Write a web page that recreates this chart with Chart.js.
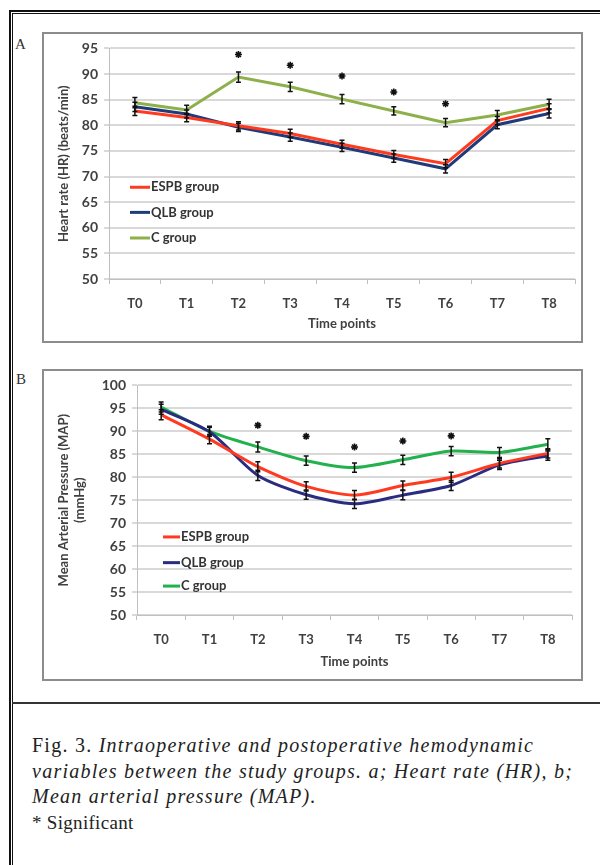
<!DOCTYPE html>
<html>
<head>
<meta charset="utf-8">
<script src="https://cdn.jsdelivr.net/npm/chart.js@4.4.1/dist/chart.umd.min.js"></script>
<style>
  body { margin: 0; background: #fff; }
  #page { position: relative; width: 600px; height: 865px; overflow: hidden; background: #fff; }
  .ln { position: absolute; background: #111; }
  .box { position: absolute; box-sizing: border-box; border: 2px solid #8c8c8c; background: #fff; }
  .box canvas { position: absolute; left: 0; top: 0; }
  .tag { position: absolute; font-family: "Liberation Serif", serif; font-size: 15px; color: #333; }
  #caption { position: absolute; left: 32px; top: 733px; width: 568px; white-space: nowrap;
             font-family: "Liberation Serif", serif; font-size: 20px; line-height: 25.5px; color: #222; letter-spacing: 1.25px; }
  #caption i { font-style: italic; }
  #caption .sig { font-size: 19px; letter-spacing: 0.3px; }
</style>
</head>
<body>
<div id="page">
  <div class="ln" style="left:9px;top:10px;width:591px;height:2px"></div>
  <div class="ln" style="left:12px;top:13px;width:588px;height:1px"></div>
  <div class="ln" style="left:9px;top:10px;width:2px;height:855px"></div>
  <div class="ln" style="left:12px;top:13px;width:1px;height:852px"></div>
  <div class="ln" style="left:12px;top:702px;width:588px;height:2px;background:#333"></div>

  <div class="tag" style="left:15px;top:36px">A</div>
  <div class="box" style="left:42px;top:32px;width:541px;height:311px">
    <canvas id="chartHR" width="537" height="307"></canvas>
  </div>

  <div class="tag" style="left:16px;top:371px">B</div>
  <div class="box" style="left:42px;top:369px;width:541px;height:312px">
    <canvas id="chartMAP" width="537" height="308"></canvas>
  </div>

  <div id="caption">Fig. 3. <i>Intraoperative and postoperative hemodynamic</i><br><i>variables between the study groups. a; Heart rate (HR), b;</i><br><i>Mean arterial pressure (MAP).</i><br><span class="sig">* Significant</span></div>
</div>

<script>
// time points
const timePoints = ['T0', 'T1', 'T2', 'T3', 'T4', 'T5', 'T6', 'T7', 'T8'];
const groupNames = ['ESPB group', 'QLB group', 'C group'];

// A: heart rate (beats/min)
const hrESPB = [82.8, 81.5, 79.9, 78.4, 76.3, 74.3, 72.5, 80.9, 83.3];
const hrQLB  = [83.6, 82.2, 79.6, 77.7, 75.7, 73.6, 71.5, 80.1, 82.3];
const hrC    = [84.4, 83.0, 89.4, 87.5, 85.1, 82.8, 80.5, 82.0, 84.1];
const hrErrESPB = [0.9, 0.8, 0.8, 0.8, 0.8, 0.8, 0.8, 0.8, 0.9];
const hrErrQLB  = [0.9, 0.8, 0.8, 0.8, 0.8, 0.8, 0.8, 0.8, 0.9];
const hrErrC    = [1.0, 0.9, 1.0, 0.9, 0.9, 0.8, 0.8, 0.9, 1.0];
const hrStars   = [null, null, 93.8, 91.7, 89.6, 86.5, 84.2, null, null];
const hrLegendY = [67.9, 63.0, 58.0];

// B: mean arterial pressure (mmHg)
const mapESPB = [93.6, 88.3, 82.3, 78.0, 76.1, 78.2, 80.0, 83.0, 85.2];
const mapQLB  = [94.8, 89.9, 80.4, 76.2, 74.2, 76.1, 78.2, 82.7, 84.7];
const mapC    = [95.3, 90.0, 86.6, 83.6, 82.1, 83.8, 85.7, 85.4, 87.2];
const mapErrESPB = [1.1, 1.0, 1.1, 1.0, 1.0, 1.0, 1.1, 1.0, 1.0];
const mapErrQLB  = [1.1, 1.0, 1.1, 1.0, 1.0, 1.0, 1.1, 1.0, 1.0];
const mapErrC    = [1.1, 1.1, 1.1, 1.0, 1.0, 1.0, 1.0, 1.1, 1.2];
const mapStars   = [null, null, 91.3, 88.9, 86.6, 87.9, 89.0, null, null];
const mapLegendY = [67.0, 61.4, 56.3];

const fontFam = 'Lato, "Liberation Sans", sans-serif';
const txtColor = '#404040';

// black error bars with caps, drawn through the y scale
const errorBars = {
    id: 'errorBars',
    afterDatasetsDraw(chart) {
        const ctx = chart.ctx;
        const y = chart.scales.y;
        ctx.save();
        ctx.strokeStyle = '#111';
        ctx.lineWidth = 1.5;
        chart.data.datasets.forEach((ds, i) => {
            if (!ds.errors) return;
            const meta = chart.getDatasetMeta(i);
            meta.data.forEach((pt, j) => {
                const v = ds.data[j], e = ds.errors[j];
                const y1 = y.getPixelForValue(v + e), y2 = y.getPixelForValue(v - e);
                ctx.beginPath();
                ctx.moveTo(pt.x, y1); ctx.lineTo(pt.x, y2);
                ctx.moveTo(pt.x - 2.5, y1); ctx.lineTo(pt.x + 2.5, y1);
                ctx.moveTo(pt.x - 2.5, y2); ctx.lineTo(pt.x + 2.5, y2);
                ctx.stroke();
            });
        });
        ctx.restore();
    }
};

// legend sitting inside the plot, lower left
const insideLegend = {
    id: 'insideLegend',
    afterDraw(chart, args, opts) {
        const ctx = chart.ctx;
        const area = chart.chartArea;
        const y = chart.scales.y;
        ctx.save();
        ctx.font = 'bold 13px ' + fontFam;
        ctx.textBaseline = 'middle';
        opts.levels.forEach((lv, i) => {
            const ds = chart.data.datasets[i];
            const py = y.getPixelForValue(lv);
            ctx.strokeStyle = ds.borderColor;
            ctx.lineWidth = 3;
            ctx.beginPath();
            ctx.moveTo(area.left + opts.x0, py);
            ctx.lineTo(area.left + opts.x1, py);
            ctx.stroke();
            ctx.fillStyle = '#333';
            ctx.fillText(ds.label, area.left + opts.x1 + 1, py);
        });
        ctx.restore();
    }
};

function makeChart(canvasId, series, errs, colors, stars, yMax, yTitle, pad, yWidth, xHeight, legendY, legendX, tension) {
    const datasets = series.map((s, i) => ({
        label: groupNames[i],
        data: s,
        errors: errs[i],
        borderColor: colors[i],
        backgroundColor: colors[i],
        borderWidth: 3,
        pointRadius: 0,
        tension: tension
    }));
    datasets.push({
        label: '*',
        data: stars,
        showLine: false,
        pointStyle: 'star',
        pointRadius: 3.5,
        borderColor: '#111',
        backgroundColor: '#111',
        pointBorderWidth: 1.6
    });
    return new Chart(document.getElementById(canvasId), {
        type: 'line',
        data: { labels: timePoints, datasets: datasets },
        options: {
            responsive: false,
            animation: false,
            layout: { padding: pad },
            plugins: {
                legend: { display: false },
                tooltip: { enabled: false },
                insideLegend: { levels: legendY, x0: legendX[0], x1: legendX[1] }
            },
            scales: {
                x: {
                    offset: true,
                    afterFit: s => { s.height = xHeight; },
                    grid: { offset: true, drawOnChartArea: false, drawTicks: true, tickLength: 5, color: '#bfbfbf', lineWidth: 1 },
                    border: { color: '#bfbfbf', width: 1 },
                    ticks: { color: txtColor, padding: 12, font: { family: fontFam, size: 13, weight: 'bold' } },
                    title: { display: true, text: 'Time points', color: txtColor,
                             padding: { top: 0, bottom: 9 }, font: { family: fontFam, size: 13, weight: 'bold' } }
                },
                y: {
                    min: 50, max: yMax,
                    afterFit: s => { s.width = yWidth; },
                    grid: { color: '#d9d9d9', lineWidth: 2, tickLength: 5 },
                    border: { color: '#bfbfbf', width: 1 },
                    ticks: { stepSize: 5, color: txtColor, padding: 6, font: { family: fontFam, size: 14, weight: 'bold' } },
                    title: { display: true, text: yTitle, color: txtColor,
                             padding: { top: 12, bottom: 0 }, font: { family: fontFam, size: 13, weight: 'bold' } }
                }
            }
        },
        plugins: [errorBars, insideLegend]
    });
}

makeChart('chartHR',
    [hrESPB, hrQLB, hrC], [hrErrESPB, hrErrQLB, hrErrC],
    ['#ff3b1f', '#203b7a', '#8db04a'], hrStars, 95,
    'Heart rate (HR) (beats/min)',
    { top: 13, right: 6, left: 0, bottom: 0 }, 65, 62, hrLegendY, [21, 41], 0);

makeChart('chartMAP',
    [mapESPB, mapQLB, mapC], [mapErrESPB, mapErrQLB, mapErrC],
    ['#ff3a20', '#2a2c80', '#22b14c'], mapStars, 100,
    ['Mean Arterial Pressure (MAP)', '(mmHg)'],
    { top: 12, right: 9, left: 0, bottom: 0 }, 93, 64, mapLegendY, [26, 43], 0.25);
</script>
</body>
</html>
